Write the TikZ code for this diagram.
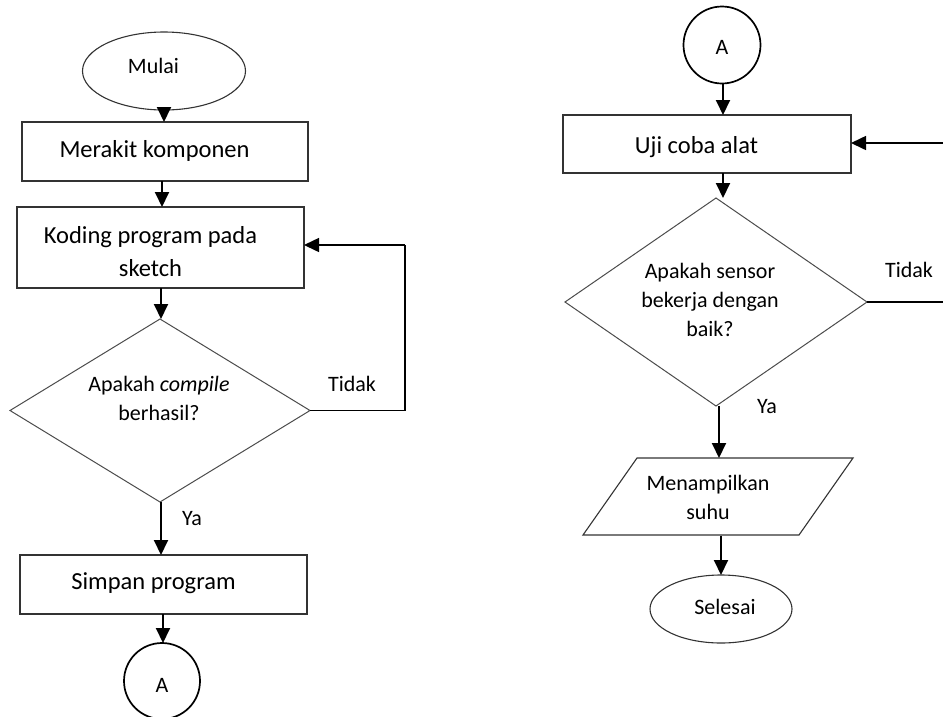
\documentclass[tikz,border=0pt]{standalone}
\usepackage{fontspec}
\setmainfont{Carlito}
\usetikzlibrary{shapes.geometric,arrows.meta}
\begin{document}
\begin{tikzpicture}[x=1pt,y=-1pt,
  shp/.style={draw=black!80,line width=1.1pt,inner sep=0pt,outer sep=0pt},
  boxshape/.style={shp,rectangle},
  term/.style={shp,ellipse},
  conn/.style={shp,circle,line width=1.7pt,draw=black},
  dec/.style={shp,diamond,draw=black!70,line width=1pt},
  big/.style={inner sep=0pt,font=\fontsize{24.5}{33}\selectfont,align=center},
  small/.style={inner sep=0pt,font=\fontsize{22}{29}\selectfont,align=center},
  flow/.style={line width=1.9pt,-{Triangle[length=15pt,width=14pt]}},
  back/.style={line width=1.4pt,draw=black}
]
\useasboundingbox (0,0) rectangle (943,716);
\fill[white] (0,0) rectangle (943,716);

% ---------- left column ----------
\node[term,minimum width=163pt,minimum height=78pt] (mulai) at (164,71) {};
\node[small] (tmulai) at (153.5,66) {Mulai};

\node[boxshape,minimum width=286pt,minimum height=59pt] (merakit) at (165,151.5) {};
\node[big] (tmerakit) at (154.5,151) {Merakit komponen};

\node[boxshape,minimum width=287pt,minimum height=81pt] (koding) at (160.5,247.5) {};
\node[big] (tkoding) at (150.5,251.5) {Koding program pada\\sketch};

\node[dec,minimum width=300pt,minimum height=183pt] (d1) at (160,410.5) {};
\node[small] (td1) at (159,398.5) {Apakah \textit{compile}\\berhasil?};

\node[boxshape,minimum width=287pt,minimum height=59pt] (simpan) at (163.5,584.5) {};
\node[big] (tsimpan) at (153.5,583) {Simpan program};

\node[conn,minimum size=76pt] (a1) at (162,681) {};
\node[small] (ta1) at (162,685) {A};

\node[small] (tidak1) at (352,384) {Tidak};
\node[small] (ya1) at (192,519) {Ya};

\coordinate (l1) at (405,410.5);
\coordinate (l2) at (405,245);

\draw[flow] (mulai.south) -- (mulai.south |- merakit.north);
\draw[flow] ([xshift=-3pt]merakit.south) -- ([xshift=-3pt]merakit.south |- koding.north);
\draw[flow] ([xshift=0.5pt]koding.south) -- ([xshift=0.5pt]koding.south |- d1.north);
\draw[flow] ([xshift=1pt]d1.south) -- ([xshift=1pt]d1.south |- simpan.north);
\draw[flow] ([xshift=-0.5pt]simpan.south) -- ([xshift=-0.5pt]simpan.south |- a1.north);
\draw[back] (d1.east) -- (l1) -- (l2);
\draw[back,flow,line width=1.5pt] (l2) -- (l2 -| koding.east);

% ---------- right column ----------
\node[conn,minimum size=77pt] (a2) at (722,45) {};
\node[small] (ta2) at (722,47) {A};

\node[boxshape,minimum width=288pt,minimum height=58pt] (uji) at (707,144) {};
\node[big] (tuji) at (696.5,147) {Uji coba alat};

\node[dec,minimum width=302pt,minimum height=208pt] (d2) at (716,302) {};
\node[small] (td2) at (710,299.5) {Apakah sensor\\bekerja dengan\\baik?};

% parallelogram (input/output)
\coordinate (ptl) at (637,458);
\coordinate (ptr) at (853,458);
\coordinate (pbr) at (799,535);
\coordinate (pbl) at (583,535);
\draw[shp] (ptl) -- (ptr) -- (pbr) -- (pbl) -- cycle;
\coordinate (ptop) at (719,458);
\coordinate (pbot) at (721,535.5);
\node[small] (ttampil) at (708,497.5) {Menampilkan\\suhu};

\node[term,minimum width=142pt,minimum height=68pt] (selesai) at (721,609) {};
\node[small] (tselesai) at (725,607) {Selesai};

\node[small] (tidak2) at (909,270) {Tidak};
\node[small] (ya2) at (767,407) {Ya};

\coordinate (r1) at (965,302);
\coordinate (r2) at (965,143);

\draw[flow] ([xshift=1pt]a2.south) -- ([xshift=1pt]a2.south |- uji.north);
\draw[flow] ([xshift=16pt]uji.south) -- ([xshift=16pt]uji.south |- d2.north);
\draw[flow] ([xshift=3pt]d2.south) -- (ptop);
\draw[flow] (pbot) -- (pbot |- selesai.north);
\draw[back,line width=1.2pt] (d2.east) -- (r1) -- (r2);
\draw[back,flow,line width=1.6pt] (r2) -- (r2 -| uji.east);
\end{tikzpicture}
\end{document}
